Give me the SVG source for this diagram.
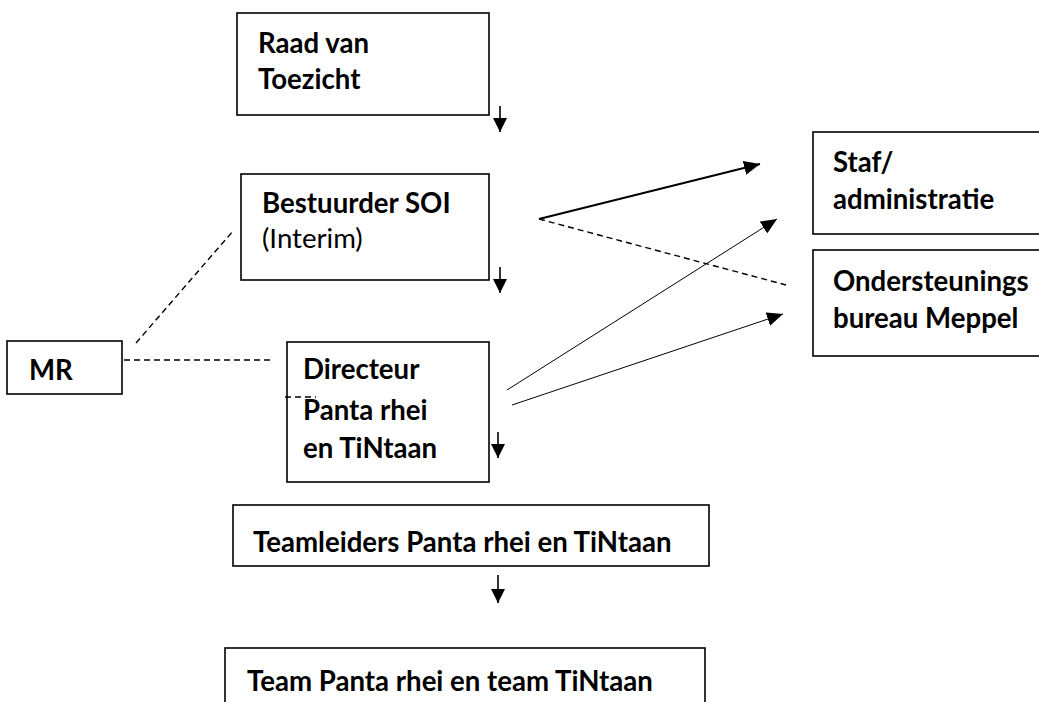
<svg xmlns="http://www.w3.org/2000/svg" width="1039" height="702" viewBox="0 0 1039 702">
<defs>
<style>
.box{fill:#fff;stroke:#000;stroke-width:1.6}
.t{font-family:Lato,"Open Sans","Liberation Sans",sans-serif;font-size:27.6px;font-weight:bold;fill:#000}
.n{font-weight:normal}
.ln{stroke:#000;fill:none}
.dash{stroke:#000;fill:none;stroke-width:1.4;stroke-dasharray:6 4}
</style>
<marker id="ah" markerWidth="14" markerHeight="14" viewBox="0 0 14 14" refX="14" refY="7" orient="auto" markerUnits="userSpaceOnUse">
<path d="M0,0 L14,7 L0,14 Z" fill="#000"/>
</marker>
<marker id="ahs" markerWidth="16" markerHeight="14" viewBox="0 0 16 14" refX="16" refY="7" orient="auto" markerUnits="userSpaceOnUse">
<path d="M0,0 L16,7 L0,14 Z" fill="#000"/>
</marker>
</defs>
<rect width="1039" height="702" fill="#fff"/>
<g id="raad">
<rect class="box" x="237" y="13" width="252" height="102"/>
<text class="t" x="258" y="53">Raad van</text>
<text class="t" x="258" y="89">Toezicht</text>
</g>
<g id="bestuurder">
<rect class="box" x="241" y="174" width="248" height="106"/>
<text class="t" x="262" y="213">Bestuurder SOI</text>
<text class="t n" x="262" y="248">(Interim)</text>
</g>
<g id="mr">
<rect class="box" x="7" y="341" width="115" height="53"/>
<text class="t" x="29" y="380">MR</text>
</g>
<g id="directeur">
<rect class="box" x="287" y="342" width="202" height="140"/>
<text class="t" x="303" y="379">Directeur</text>
<text class="t" x="303" y="420">Panta rhei</text>
<text class="t" x="303" y="458">en TiNtaan</text>
</g>
<g id="staf">
<rect class="box" x="813" y="132" width="240" height="102"/>
<text class="t" x="833" y="172">Staf/</text>
<text class="t" x="833" y="209">administratie</text>
</g>
<g id="ondersteuning">
<rect class="box" x="813" y="250" width="240" height="106"/>
<text class="t" x="833" y="291">Ondersteunings</text>
<text class="t" x="833" y="328">bureau Meppel</text>
</g>
<g id="teamleiders">
<rect class="box" x="233" y="505" width="476" height="61"/>
<text class="t" x="253" y="552">Teamleiders Panta rhei en TiNtaan</text>
</g>
<g id="team">
<rect class="box" x="225" y="648" width="480" height="70"/>
<text class="t" x="247" y="691">Team Panta rhei en team TiNtaan</text>
</g>
<g id="connectors">
<line class="ln" x1="500" y1="106" x2="500" y2="132" stroke-width="1.6" marker-end="url(#ah)"/>
<line class="ln" x1="500" y1="267" x2="500" y2="293" stroke-width="1.6" marker-end="url(#ah)"/>
<line class="ln" x1="498" y1="432" x2="498" y2="458" stroke-width="1.6" marker-end="url(#ah)"/>
<line class="ln" x1="498" y1="575" x2="498" y2="603" stroke-width="1.6" marker-end="url(#ah)"/>
<line class="ln" x1="539" y1="219" x2="760" y2="164" stroke-width="2" marker-end="url(#ahs)"/>
<line class="dash" x1="539" y1="219" x2="786" y2="285"/>
<line class="ln" x1="507" y1="390" x2="777" y2="219" stroke-width="1" marker-end="url(#ahs)"/>
<line class="ln" x1="512" y1="405" x2="783" y2="314" stroke-width="1" marker-end="url(#ahs)"/>
<line class="dash" x1="136" y1="343" x2="233" y2="231"/>
<line class="dash" x1="124" y1="360" x2="273" y2="360"/>
<line class="dash" x1="285" y1="397" x2="316" y2="397"/>
</g>
</svg>
